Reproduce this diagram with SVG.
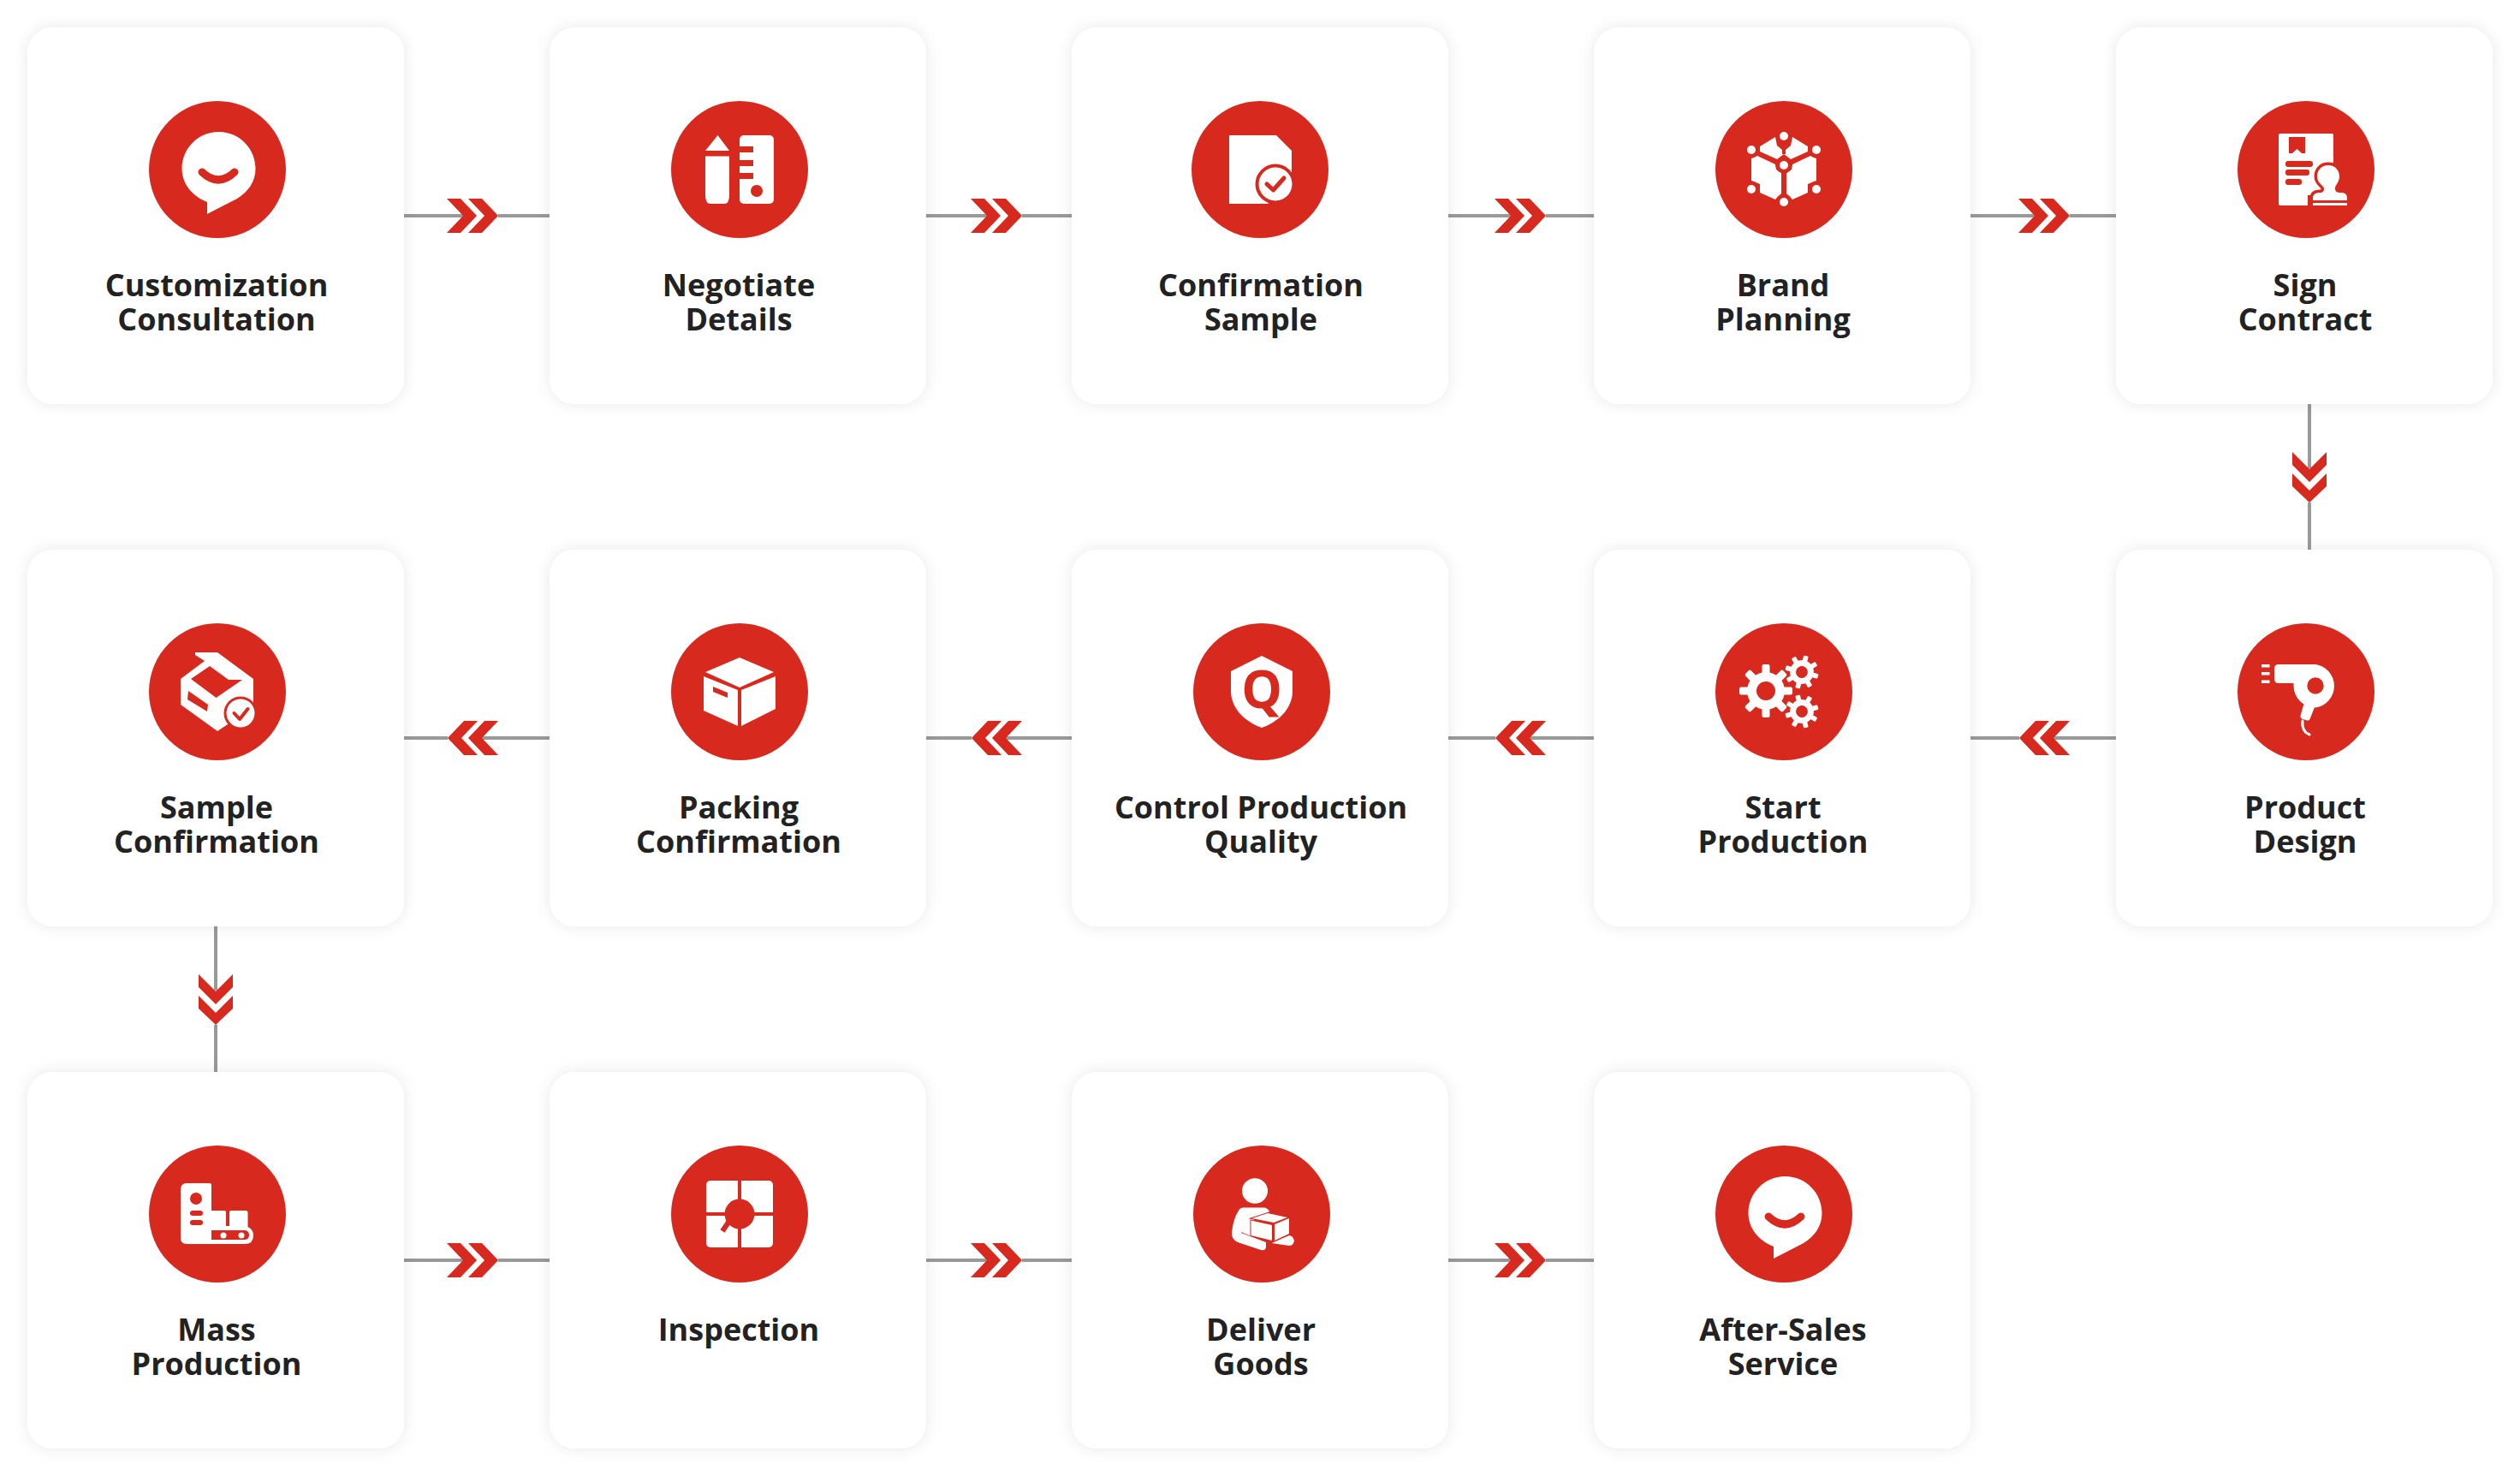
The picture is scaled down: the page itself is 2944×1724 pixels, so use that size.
<svg xmlns="http://www.w3.org/2000/svg" xmlns:xlink="http://www.w3.org/1999/xlink" width="2944" height="1724" viewBox="0 0 2944 1724">
<style>
.card{fill:#fff;filter:url(#soft)}
.disc{fill:#d7291e}
.w{fill:#fff}
.r{fill:#d7291e}
.rl{fill:none;stroke:#d7291e;stroke-linecap:round;stroke-linejoin:round}
.wl{fill:none;stroke:#fff;stroke-linecap:round}
.parcel{fill:#fff;stroke:#d7291e;stroke-width:2;paint-order:stroke}
.label{font-family:"Open Sans","Noto Sans",sans-serif;font-weight:700;font-size:36px;fill:#222;text-anchor:middle}
.qmark{font-family:"Open Sans","Noto Sans",sans-serif;font-weight:700;font-size:60px;fill:#d7291e;text-anchor:middle}
.wire{stroke:#999;stroke-width:4;fill:none}
</style>
<defs>
<filter id="soft" x="-15%" y="-15%" width="130%" height="130%">
<feDropShadow dx="0" dy="0" stdDeviation="9" flood-color="#000" flood-opacity="0.09"/>
</filter>
<g id="chev-right"><polygon class="r" points="0,-20 16,-20 35,0 16,20 0,20 19,0"/><polygon class="r" points="25,-20 41,-20 60,0 41,20 25,20 44,0"/></g>
<g id="chev-left"><polygon class="r" points="0,0 19,-20 35,-20 16,0 35,20 19,20"/><polygon class="r" points="24,0 43,-20 59,-20 40,0 59,20 43,20"/></g>
<g id="chev-down"><polygon class="r" points="-20,0 0,20 20,0 20,15 0,35 -20,15"/><polygon class="r" points="-20,25 0,45 20,25 20,40 0,59 -20,40"/></g>
<g id="bubble">
<path class="w" d="M1.500 -44C26 -44 44.500 -24 44.500 -1C44.500 14 36 26 23 34L-12 52V38C-30 31 -41.500 16 -41.500 -1C-41.500 -24 -23 -44 1.500 -44Z"/>
<path class="rl" stroke-width="9" d="M-18 3Q1 21 20 3"/>
</g>
<g id="cog">
<circle class="w" r="22"/>
<g class="w">
<rect x="-4.500" y="-31" width="9" height="62" rx="2"/>
<rect x="-4.500" y="-31" width="9" height="62" rx="2" transform="rotate(45)"/>
<rect x="-4.500" y="-31" width="9" height="62" rx="2" transform="rotate(90)"/>
<rect x="-4.500" y="-31" width="9" height="62" rx="2" transform="rotate(135)"/>
</g>
<circle class="r" r="11"/>
</g>
</defs>
<rect width="2944" height="1724" fill="#fff"/>

<g id="connectors">
<!-- row one, left to right -->
<path class="wire" d="M472 252H541M582 252H642M1082 252H1153M1194 252H1252M1692 252H1765M1806 252H1862M2302 252H2377M2418 252H2472"/>
<use xlink:href="#chev-right" href="#chev-right" x="522" y="252"/>
<use xlink:href="#chev-right" href="#chev-right" x="1134" y="252"/>
<use xlink:href="#chev-right" href="#chev-right" x="1746" y="252"/>
<use xlink:href="#chev-right" href="#chev-right" x="2358" y="252"/>
<!-- drop to row two -->
<path class="wire" d="M2698 472V547M2698 587V642"/>
<use xlink:href="#chev-down" href="#chev-down" x="2698" y="528"/>
<!-- row two, right to left -->
<path class="wire" d="M472 862H523M563 862H642M1082 862H1135M1175 862H1252M1692 862H1747M1787 862H1862M2302 862H2359M2399 862H2472"/>
<use xlink:href="#chev-left" href="#chev-left" x="523" y="862"/>
<use xlink:href="#chev-left" href="#chev-left" x="1135" y="862"/>
<use xlink:href="#chev-left" href="#chev-left" x="1747" y="862"/>
<use xlink:href="#chev-left" href="#chev-left" x="2359" y="862"/>
<!-- drop to row three -->
<path class="wire" d="M252 1082V1157M252 1197V1252"/>
<use xlink:href="#chev-down" href="#chev-down" x="252" y="1138"/>
<!-- row three, left to right -->
<path class="wire" d="M472 1472H541M582 1472H642M1082 1472H1153M1194 1472H1252M1692 1472H1765M1806 1472H1862"/>
<use xlink:href="#chev-right" href="#chev-right" x="522" y="1472"/>
<use xlink:href="#chev-right" href="#chev-right" x="1134" y="1472"/>
<use xlink:href="#chev-right" href="#chev-right" x="1746" y="1472"/>
</g>

<g id="customization-consultation">
<rect class="card" x="32" y="32" width="440" height="440" rx="30"/>
<g transform="translate(254 198)"><circle class="disc" r="80"/><use xlink:href="#bubble" href="#bubble"/></g>
<text class="label" x="253" y="346">Customization</text><text class="label" x="253" y="386">Consultation</text>
</g>

<g id="negotiate-details">
<rect class="card" x="642" y="32" width="440" height="440" rx="30"/>
<g transform="translate(864 198)"><circle class="disc" r="80"/>
<polygon class="w" points="-25.500,-40 -12,-22 -40,-22"/>
<path class="w" d="M-40 -15.500H-12V30Q-12 40 -18 40H-34Q-40 40 -40 30Z"/>
<rect class="w" x="0" y="-40" width="40" height="80" rx="5"/>
<rect class="r" x="0" y="-27" width="16" height="7"/><rect class="r" x="0" y="-11" width="16" height="7"/><rect class="r" x="0" y="4" width="16" height="7"/>
<circle class="r" cx="20" cy="25" r="7"/>
</g>
<text class="label" x="863" y="346">Negotiate</text><text class="label" x="863" y="386">Details</text>
</g>

<g id="confirmation-sample">
<rect class="card" x="1252" y="32" width="440" height="440" rx="30"/>
<g transform="translate(1472 198)"><circle class="disc" r="80"/>
<path class="w" d="M-36 -40H19L37 -22V30H-36Z"/><path class="w" d="M-36 30H10V40H-36Z"/>
<circle class="r" cx="18" cy="17" r="23.500"/><circle class="w" cx="18" cy="17" r="19.500"/>
<path class="rl" stroke-width="5" d="M8 17L15.500 24L28 10"/>
</g>
<text class="label" x="1473" y="346">Confirmation</text><text class="label" x="1473" y="386">Sample</text>
</g>

<g id="brand-planning">
<rect class="card" x="1862" y="32" width="440" height="440" rx="30"/>
<g transform="translate(2084 198)"><circle class="disc" r="80"/>
<polygon class="w" points="-28,-27 -10,-38 -8,-28 -2,-23 -2,-18 2,-18 2,-23 8,-28 10,-38 28,-27 28,-21 8,-12 0,-18 -8,-12 -28,-21"/>
<polygon class="w" points="-38,-13 -31,-16 -10,-6 -9,0 -3,4 -3,28 -10,35 -28,27 -28,17 -38,13"/>
<polygon class="w" points="38,-13 31,-16 10,-6 9,0 3,4 3,28 10,35 28,27 28,17 38,13"/>
<g class="r"><circle cy="-39" r="9.500"/><circle cx="-38" cy="-23" r="9.500"/><circle cx="38" cy="-23" r="9.500"/><circle cy="-5" r="9.500"/><circle cx="-38" cy="23" r="9.500"/><circle cx="38" cy="23" r="9.500"/><circle cy="38" r="9.500"/></g>
<g class="w"><circle cy="-39" r="5"/><circle cx="-38" cy="-23" r="5"/><circle cx="38" cy="-23" r="5"/><circle cy="-5" r="5"/><circle cx="-38" cy="23" r="5"/><circle cx="38" cy="23" r="5"/><circle cy="38" r="5"/></g>
</g>
<text class="label" x="2083" y="346">Brand</text><text class="label" x="2083" y="386">Planning</text>
</g>

<g id="sign-contract">
<rect class="card" x="2472" y="32" width="440" height="440" rx="30"/>
<g transform="translate(2694 198)"><circle class="disc" r="80"/>
<rect class="w" x="-32" y="-42" width="64" height="84" rx="2"/>
<polygon class="r" points="-20,-38 -1,-38 -1,-19 -5,-19 -10.500,-24 -16,-19 -20,-19"/>
<rect class="r" x="-24" y="-10" width="32" height="7" rx="3"/><rect class="r" x="-24" y="0" width="28" height="7" rx="3"/><rect class="r" x="-24" y="11" width="19" height="7" rx="3"/>
<rect class="r" x="2" y="30" width="8" height="13"/>
<path class="w" stroke="#d7291e" stroke-width="7" paint-order="stroke" d="M26 -5C35 -5 39 2 39 8C39 15 34 18 34 22C34 26 36 27 41 27C46 27 48 29 48 34V36H8V34C8 29 11 27 16 27C20 27 21 25 21 22C20 18 13 16 13 8C13 2 17 -5 26 -5Z"/>
<rect class="w" x="8" y="39" width="40" height="3"/>
</g>
<text class="label" x="2693" y="346">Sign</text><text class="label" x="2693" y="386">Contract</text>
</g>

<g id="product-design">
<rect class="card" x="2472" y="642" width="440" height="440" rx="30"/>
<g transform="translate(2694 808)"><circle class="disc" r="80"/>
<rect class="w" x="-52" y="-32" width="9.500" height="3.500"/><rect class="w" x="-52" y="-23" width="9.500" height="3.500"/><rect class="w" x="-52" y="-13.500" width="9.500" height="3.500"/>
<path class="w" d="M-32 -32H11A25.500 25.500 0 0 1 11 18.500A25.500 25.500 0 0 1 -14.500 -7V-10H-32Q-37 -10 -37 -15V-27Q-37 -32 -32 -32Z"/>
<circle class="r" cx="11" cy="-7" r="9.700"/>
<path class="w" d="M-2.500 14L10 18L4.500 32Q3.500 34 1 33.500L-5 31.500Q-7 30.500 -6.500 28Z"/>
<path class="wl" stroke-width="3" d="M-4 34C-5 43 -1 48 4 50"/>
</g>
<text class="label" x="2693" y="956">Product</text><text class="label" x="2693" y="996">Design</text>
</g>

<g id="start-production">
<rect class="card" x="1862" y="642" width="440" height="440" rx="30"/>
<g transform="translate(2084 808)"><circle class="disc" r="80"/>
<use xlink:href="#cog" href="#cog" transform="translate(-21 -1)"/>
<use xlink:href="#cog" href="#cog" transform="translate(21 -23) rotate(15) scale(.63)"/>
<use xlink:href="#cog" href="#cog" transform="translate(21 23) rotate(-15) scale(.63)"/>
</g>
<text class="label" x="2083" y="956">Start</text><text class="label" x="2083" y="996">Production</text>
</g>

<g id="control-production-quality">
<rect class="card" x="1252" y="642" width="440" height="440" rx="30"/>
<g transform="translate(1474 808)"><circle class="disc" r="80"/>
<path class="w" d="M0 -42L36 -24V-1C36 18 22 34 0 42C-22 34 -36 18 -36 -1V-24Z"/>
<text class="qmark" x="0" y="19">Q</text>
</g>
<text class="label" x="1473" y="956">Control Production</text><text class="label" x="1473" y="996">Quality</text>
</g>

<g id="packing-confirmation">
<rect class="card" x="642" y="642" width="440" height="440" rx="30"/>
<g transform="translate(864 808)"><circle class="disc" r="80"/>
<polygon class="w" points="0,-40 40,-23 0,-5 -40,-23"/>
<polygon class="w" points="-42,-18 -2,-2 -2,40 -42,22"/>
<polygon class="w" points="2,-2 42,-18 42,20 2,40"/>
<polygon class="r" points="-31,-6 -14,1 -14,7 -31,0"/>
</g>
<text class="label" x="863" y="956">Packing</text><text class="label" x="863" y="996">Confirmation</text>
</g>

<g id="sample-confirmation">
<rect class="card" x="32" y="642" width="440" height="440" rx="30"/>
<g transform="translate(254 808)"><circle class="disc" r="80"/>
<polygon class="w" points="-26,-46 0,-46 42,-15 42,15 12,38 0,46 -43,15 -43,-15 -15,-36 -26,-43"/>
<polygon class="r" points="-9,-30 13,-14 29,-14 -1.500,7 -31,-15"/>
<polygon class="r" points="-34,-1 -11,15 -12,23 -35,9"/>
<circle class="r" cx="27" cy="25" r="19.500"/><circle class="w" cx="27" cy="25" r="16.500"/>
<path class="rl" stroke-width="4" d="M19.500 25L26 32L35.500 20"/>
</g>
<text class="label" x="253" y="956">Sample</text><text class="label" x="253" y="996">Confirmation</text>
</g>

<g id="mass-production">
<rect class="card" x="32" y="1252" width="440" height="440" rx="30"/>
<g transform="translate(254 1418)"><circle class="disc" r="80"/>
<path class="w" d="M-36 -36H-9Q-7 -36 -7 -34V-4H8Q10 -4 10 -2V14H14V-2Q14 -4 16 -4H33Q35.500 -4 35.500 -2V15Q42 18 42 25Q42 35 32 35H-36Q-43 35 -43 28V-28Q-43 -36 -36 -36Z"/>
<circle class="r" cx="-25" cy="-18" r="7"/>
<rect class="r" x="-32" y="-4" width="15" height="6" rx="3"/><rect class="r" x="-32" y="7" width="15" height="6" rx="3"/>
<path class="r" d="M-7 19H31Q37 19 37 24.500Q37 30 31 30H-7Z"/>
<circle class="w" cx="7" cy="25" r="3.500"/><circle class="w" cx="28" cy="25" r="3.500"/>
</g>
<text class="label" x="253" y="1566">Mass</text><text class="label" x="253" y="1606">Production</text>
</g>

<g id="inspection">
<rect class="card" x="642" y="1252" width="440" height="440" rx="30"/>
<g transform="translate(864 1418)"><circle class="disc" r="80"/>
<rect class="w" x="-39" y="-39" width="78" height="78" rx="5"/>
<path fill="none" stroke="#d7291e" stroke-width="4" d="M0 -39V39M-39 0H39"/>
<circle class="r" r="17.500"/>
<path fill="none" stroke="#d7291e" stroke-width="6" d="M-12 8L-20 20"/>
</g>
<text class="label" x="863" y="1566">Inspection</text>
</g>

<g id="deliver-goods">
<rect class="card" x="1252" y="1252" width="440" height="440" rx="30"/>
<g transform="translate(1474 1418)"><circle class="disc" r="80"/>
<ellipse class="w" cx="-8" cy="-27" rx="15" ry="14.700"/>
<path class="w" d="M-22 -7.500H3Q7 -7 9 -3L-12 8V26L-24 21L-21 7L-24 22L5 33V39Q4 43 -1 42L-28 33Q-36 29 -35 21Q-33 5 -27 -4Q-26 -7 -22 -7.500Z"/>
<polygon class="parcel" points="-11.500,5 7,-1 30,4 14,10"/>
<polygon class="parcel" points="-12.500,7.500 12,13 12,31 -12.500,25"/>
<polygon class="parcel" points="15,12 32,5 32,23 15,31"/>
<path class="w" d="M11.500 34L32 25Q36 25 38 31Q37 37 32 37Z"/>
</g>
<text class="label" x="1473" y="1566">Deliver</text><text class="label" x="1473" y="1606">Goods</text>
</g>

<g id="after-sales-service">
<rect class="card" x="1862" y="1252" width="440" height="440" rx="30"/>
<g transform="translate(2084 1418)"><circle class="disc" r="80"/><use xlink:href="#bubble" href="#bubble"/></g>
<text class="label" x="2083" y="1566">After-Sales</text><text class="label" x="2083" y="1606">Service</text>
</g>
</svg>
